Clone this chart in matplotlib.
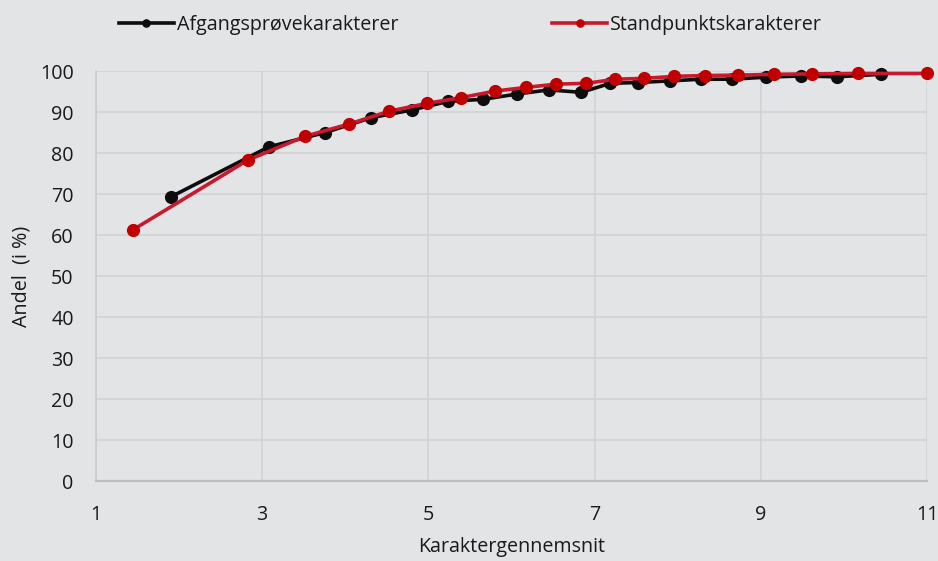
import matplotlib.pyplot as plt

# ── data ──────────────────────────────────────────────────────────────────────
afgang_x = [1.90, 3.08, 3.76, 4.31, 4.80, 5.24, 5.66, 6.07, 6.45, 6.84,
            7.19, 7.52, 7.91, 8.28, 8.65, 9.06, 9.48, 9.92, 10.45]
afgang_y = [69.3, 81.5, 85.0, 88.6, 90.5, 92.6, 93.1, 94.4, 95.4, 94.8,
            97.0, 97.2, 97.6, 98.0, 98.0, 98.5, 98.8, 98.6, 99.2]

stand_x = [1.44, 2.83, 3.52, 4.05, 4.53, 4.98, 5.39, 5.80, 6.17, 6.54,
           6.90, 7.25, 7.59, 7.96, 8.33, 8.73, 9.16, 9.62, 10.17, 11.0]
stand_y = [61.2, 78.3, 84.1, 87.1, 90.2, 92.1, 93.5, 95.1, 96.0, 96.8,
           97.0, 98.0, 98.2, 98.7, 98.9, 99.0, 99.2, 99.3, 99.4, 99.4]

x_ticks = [1, 3, 5, 7, 9, 11]
y_ticks = list(range(0, 101, 10))

# ── style ─────────────────────────────────────────────────────────────────────
BG = '#E3E4E6'
GRID = '#D2D3D5'
TXT = '#1A1A1A'
FS = 14.2
plt.rcParams['font.family'] = ['Open Sans', 'DejaVu Sans']

fig = plt.figure(figsize=(9.38, 5.61), dpi=100, facecolor=BG)
ax = fig.add_axes([0.1023, 0.1426, 0.886, 0.7308], facecolor=BG)

ax.plot(afgang_x, afgang_y, '-o', color='#0D0D0D', lw=2.6,
        markersize=9.5, markerfacecolor='#0D0D0D', markeredgewidth=0,
        label='Afgangsprøvekarakterer', zorder=3, clip_on=False)
ax.plot(stand_x, stand_y, '-o', color='#C8192E', lw=2.6,
        markersize=9.5, markerfacecolor='#C00000', markeredgewidth=0,
        label='Standpunktskarakterer', zorder=4, clip_on=False)

ax.set_xlim(1, 11)
ax.set_ylim(0, 100)
ax.set_xticks(x_ticks)
ax.set_yticks(y_ticks)
ax.grid(True, color=GRID, lw=1.2, zorder=0)
ax.set_axisbelow(True)
for s in ('top', 'right'):
    ax.spines[s].set_visible(False)
ax.spines['left'].set_color('#CBCCCE')
ax.spines['left'].set_linewidth(1.2)
ax.spines['bottom'].set_color('#BDBEC0')
ax.spines['bottom'].set_linewidth(1.6)
ax.tick_params(length=0, labelsize=FS, colors=TXT)
ax.tick_params(axis='y', pad=16)
ax.tick_params(axis='x', pad=17)
ax.set_xlabel('Karaktergennemsnit', fontsize=FS, color=TXT, labelpad=9)
ax.set_ylabel('Andel  (i %)', fontsize=FS, color=TXT, labelpad=6)

fig.legend(loc='center left', bbox_to_anchor=(0.1265, 0.955), ncol=2,
           frameon=False, fontsize=FS, handlelength=2.8, handletextpad=0.15,
           columnspacing=7.8, markerscale=0.65, labelcolor=TXT,
           borderaxespad=0, borderpad=0)

fig.savefig('out.png', dpi=100, facecolor=BG)
